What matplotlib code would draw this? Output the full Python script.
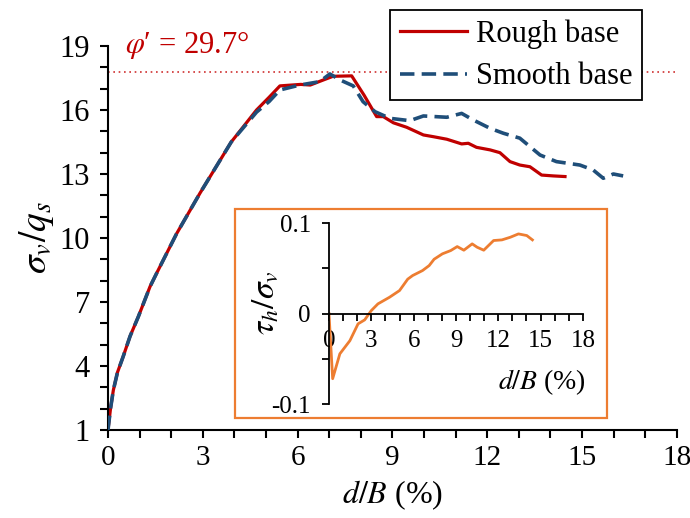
import matplotlib
matplotlib.use("Agg")
import matplotlib.pyplot as plt
from matplotlib.patches import Rectangle
from matplotlib.ticker import MultipleLocator

plt.rcParams['font.family'] = ['Liberation Serif', 'DejaVu Serif']
plt.rcParams['mathtext.fontset'] = 'stix'

# Rough base curve (sigma_v / q_s vs d/B %)
rough_x = [0, 0.08, 0.17, 0.3, 0.48, 0.7, 0.96, 1.33, 1.54, 2.17, 2.91, 3.9, 4.7, 5.1,
           5.44, 6.1, 6.4, 6.8, 7.12, 7.71, 8.1, 8.5, 8.71, 9.03, 9.45, 9.98, 10.29,
           10.72, 11.19, 11.4, 11.66, 12.09, 12.4, 12.72, 13.03, 13.35, 13.72, 14.09, 14.46]
rough_y = [1, 2.0, 2.87, 3.7, 4.44, 5.4, 6.31, 7.72, 8.35, 10.2, 12.1, 14.5, 16.0, 16.6,
           17.13, 17.2, 17.17, 17.4, 17.58, 17.6, 16.7, 15.69, 15.69, 15.4, 15.19, 14.83, 14.75,
           14.63, 14.41, 14.44, 14.25, 14.13, 14.0, 13.58, 13.42, 13.34, 12.95, 12.91, 12.88]

# Smooth base curve
smooth_x = [0, 0.08, 0.17, 0.3, 0.48, 0.7, 0.96, 1.33, 1.54, 2.17, 2.91, 3.9, 4.7, 5.1,
            5.44, 6.07, 6.7, 7.02, 7.34, 7.76, 8.07, 8.45, 8.92, 9.55, 9.98, 10.72, 11.19,
            11.56, 12.09, 12.51, 13.03, 13.67, 14.19, 14.93, 15.35, 15.67, 15.99, 16.3]
smooth_y = [1, 2.0, 2.87, 3.7, 4.44, 5.4, 6.31, 7.72, 8.35, 10.2, 12.1, 14.5, 15.9, 16.4,
            16.94, 17.17, 17.33, 17.69, 17.41, 17.13, 16.39, 15.92, 15.61, 15.5, 15.72, 15.66, 15.84,
            15.53, 15.14, 14.91, 14.68, 13.89, 13.58, 13.42, 13.19, 12.8, 13.0, 12.91]

# Inset: tau_h / sigma_v
inset_x = [0, 0.26, 0.77, 1.48, 2.06, 2.53, 3.0, 3.47, 4.29, 5.0, 5.58, 5.93, 6.63, 7.1,
           7.45, 8.04, 8.63, 9.09, 9.56, 10.15, 10.5, 10.97, 11.67, 12.26, 12.85, 13.43, 14.02, 14.42]
inset_y = [0, -0.072, -0.0445, -0.030, -0.0114, -0.007, 0.0033, 0.0107, 0.018, 0.0254, 0.038,
           0.042, 0.0475, 0.053, 0.060, 0.066, 0.0696, 0.074, 0.070, 0.077, 0.0733, 0.070,
           0.0807, 0.0814, 0.0843, 0.088, 0.0862, 0.0814]

peak_level = 17.78
y_major = list(range(1, 20, 3))
y_minor = list(range(1, 20))

red = '#C00000'
blue = '#1F4E79'
orange = '#ED7D31'

fig = plt.figure(figsize=(6.9, 5.18), dpi=100)
ax = fig.add_axes([0.1565, 0.1699, 0.8245, 0.7413])

ax.axhline(peak_level, color='#D03030', lw=1.2, ls=(0, (1, 2.2)), zorder=1)
ax.plot(rough_x, rough_y, color=red, lw=2.3, label='Rough base', zorder=2)
ax.plot(smooth_x, smooth_y, color=blue, lw=2.6, ls=(0, (4, 2)), label='Smooth base', zorder=3)

ax.set_xlim(0, 18)
ax.set_ylim(1, 19)
ax.xaxis.set_major_locator(MultipleLocator(3))
ax.xaxis.set_minor_locator(MultipleLocator(1))
ax.set_yticks(y_major)
ax.set_yticks(y_minor, minor=True)
for s in ['top', 'right']:
    ax.spines[s].set_visible(False)
for s in ['left', 'bottom']:
    ax.spines[s].set_linewidth(1.5)
ax.tick_params(which='both', direction='out', length=6, width=1.5, labelsize=22)
ax.tick_params(axis='x', which='both', pad=5, labelsize=21)
ax.tick_params(axis='y', which='both', pad=7)

ax.set_xlabel(r'$d/B$ (%)', fontsize=23)
ax.xaxis.set_label_coords(0.5, -0.17)
ax.xaxis.label.set_va('center')
ax.set_ylabel(r'$\sigma_v/q_s$', fontsize=27)
ax.yaxis.set_label_coords(-0.125, 0.5)
ax.yaxis.label.set_va('center')

fig.text(0.181, 0.913, "$\\varphi$\u2032 = 29.7°", color=red, fontsize=22, ha='left', va='center')

leg = ax.legend(loc='upper right', bbox_to_anchor=(0.930, 0.981), bbox_transform=fig.transFigure,
                fontsize=22, frameon=True, fancybox=False, framealpha=1, edgecolor='black',
                handlelength=2.2, labelspacing=0.45, borderpad=0.3, handletextpad=0.3,
                borderaxespad=0)
leg.get_frame().set_linewidth(1.3)

# inset box
box = Rectangle((0.3406, 0.1931), 0.539, 0.4035, transform=fig.transFigure,
                facecolor='white', edgecolor=orange, lw=1.6, zorder=2)
fig.add_artist(box)

axi = fig.add_axes([0.4768, 0.220, 0.368, 0.3494], zorder=3)
axi.patch.set_alpha(0)
axi.plot(inset_x, inset_y, color=orange, lw=2)
axi.set_xlim(0, 18)
axi.set_ylim(-0.1, 0.1)
axi.spines['bottom'].set_position(('data', 0))
for s in ['top', 'right']:
    axi.spines[s].set_visible(False)
for s in ['left', 'bottom']:
    axi.spines[s].set_linewidth(1.3)
axi.xaxis.set_major_locator(MultipleLocator(3))
axi.xaxis.set_minor_locator(MultipleLocator(1))
axi.set_yticks([-0.1, 0, 0.1])
axi.set_yticklabels(['-0.1', '0', '0.1'])
axi.yaxis.set_minor_locator(MultipleLocator(0.05))
axi.tick_params(which='both', direction='out', length=5, width=1.3, labelsize=18)
axi.tick_params(axis='x', which='both', pad=7)
axi.tick_params(axis='y', which='both', pad=8)

axi.set_xlabel(r'$d/B$ (%)', fontsize=20, ha='right')
axi.xaxis.set_label_coords(1.01, 0.12)
axi.xaxis.label.set_va('center')
axi.set_ylabel(r'$\tau_h/\sigma_v$', fontsize=24)
axi.yaxis.set_label_coords(-0.25, 0.56)
axi.yaxis.label.set_va('center')

fig.savefig('out.png', dpi=100)
